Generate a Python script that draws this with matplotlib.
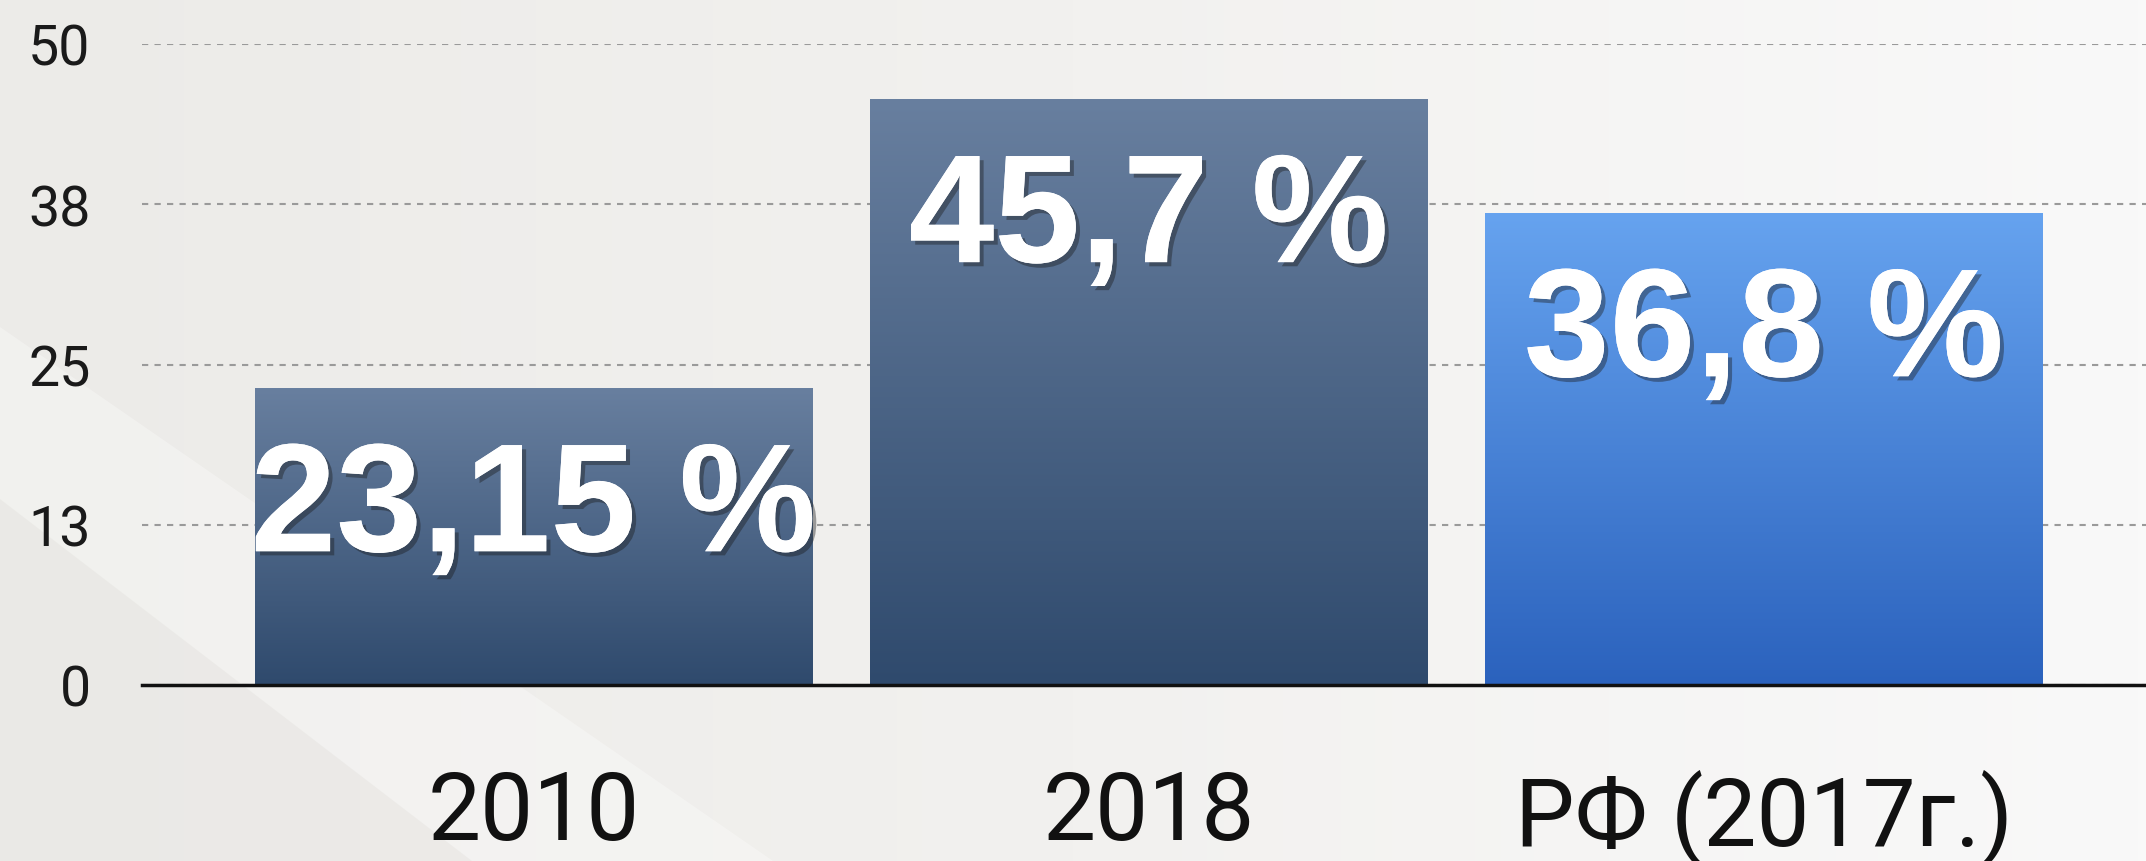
import numpy as np
import matplotlib
matplotlib.use('Agg')
import matplotlib.pyplot as plt
import matplotlib.patheffects as pe
from matplotlib.colors import LinearSegmentedColormap
from matplotlib.patches import Polygon

# Data
categories = ['2010', '2018', 'РФ (2017г.)']
values = [23.15, 45.7, 36.8]
value_labels = ['23,15 %', '45,7 %', '36,8 %']
y_ticks = [0, 12.5, 25, 37.5, 50]
y_tick_labels = ['0', '13', '25', '38', '50']

# Gradient colours per bar (top, bottom)
bar_gradients = [('#687f9f', '#2f4a6d'),
                 ('#687f9f', '#2f4a6d'),
                 ('#66a3ef', '#2b62bd')]

W, H = 2146, 862
fig = plt.figure(figsize=(W / 100, H / 100), dpi=100)
fig.patch.set_facecolor('#f1efed')

# Background: soft horizontal gradient and diagonal light bands
bg = fig.add_axes([0, 0, 1, 1], zorder=-10)
bg.set_axis_off()
grad = np.linspace(0, 1, 256).reshape(1, -1)
bg_cmap = LinearSegmentedColormap.from_list('bg', ['#ecebe8', '#f2f1ef', '#f9f9f9'])
bg.imshow(grad, aspect='auto', cmap=bg_cmap, extent=(0, 1, 0, 1))
bg.add_patch(Polygon([(0, 0.62), (0, 0), (0.36, 0)], closed=True,
                     facecolor='white', alpha=0.3, edgecolor='none'))
bg.add_patch(Polygon([(0, 0.42), (0, 0), (0.22, 0)], closed=True,
                     facecolor='#d8d5d0', alpha=0.25, edgecolor='none'))
bg.set_xlim(0, 1)
bg.set_ylim(0, 1)

ax = fig.add_axes([142 / W, 176 / H, (W - 142) / W, 641 / H])
ax.set_facecolor('none')

x = np.arange(len(categories))
bar_width = 0.906
bars = ax.bar(x, values, width=bar_width, color='none', edgecolor='none', zorder=2)

# Vertical gradient fill per bar, clipped to the bar rectangle
for bar, (top_c, bot_c) in zip(bars, bar_gradients):
    cmap = LinearSegmentedColormap.from_list('g', [bot_c, top_c])
    x0 = bar.get_x()
    x1 = x0 + bar.get_width()
    h = bar.get_height()
    im = ax.imshow(np.linspace(0, 1, 256).reshape(-1, 1), cmap=cmap, origin='lower',
                   aspect='auto', extent=(x0, x1, 0, h), zorder=2)
    im.set_clip_path(bar)

# Value labels inside bars
for xi, v, lab in zip(x, values, value_labels):
    ax.annotate(lab, xy=(xi, v), xytext=(0, -163), textcoords='offset pixels',
                ha='center', va='baseline', fontsize=111, fontweight='bold',
                family='Liberation Sans', color='white', zorder=4,
                path_effects=[pe.withSimplePatchShadow(offset=(3, -3), shadow_rgbFace='#1a1a1a', alpha=0.4),
                              pe.Normal()])

ax.set_xlim(-0.636, 2.621)
ax.set_ylim(0, 50)

ax.set_yticks(y_ticks)
ax.set_yticklabels(y_tick_labels, fontsize=40, family='Roboto', color='#1a1a1a')
ax.set_xticks(x)
ax.set_xticklabels(categories, fontsize=68, family='Roboto', color='#111111')
ax.tick_params(axis='y', length=0, pad=37)
ax.tick_params(axis='x', length=0, pad=60)

ax.yaxis.grid(True, color='#9a9a9a', linestyle=(0, (3, 3)), linewidth=1.5)
ax.set_axisbelow(True)

for side in ['top', 'right', 'left']:
    ax.spines[side].set_visible(False)
ax.spines['bottom'].set_color('#111111')
ax.spines['bottom'].set_linewidth(2.5)
ax.spines['bottom'].set_zorder(3)

fig.savefig('out.png', dpi=100, facecolor=fig.get_facecolor())
